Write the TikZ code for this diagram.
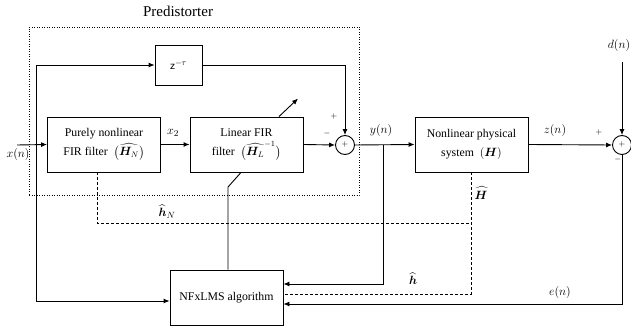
\documentclass[tikz,border=0pt]{standalone}
\usepackage{amsmath,bm}
\usepackage{fontspec}
\setmainfont{Liberation Serif}
\usetikzlibrary{arrows.meta,calc}
\begin{document}
\begin{tikzpicture}[x=1pt,y=-1pt,line width=0.9pt,
  every node/.style={font=\fontsize{11.8}{19}\selectfont},
  blk/.style={draw,fill=white,minimum width=113pt,minimum height=55pt,align=center,inner sep=0pt},
  sumc/.style={draw,circle,minimum size=19pt,inner sep=0pt,font=\fontsize{8}{8}\selectfont},
  sgn/.style={inner sep=0pt,font=\fontsize{8.5}{8.5}\selectfont},
  arr/.style={-{Latex[length=6pt,width=5pt]}},
  dsh/.style={line width=0.7pt,dash pattern=on 3pt off 2pt},
  lbl/.style={inner sep=0pt,font=\fontsize{12.2}{13}\selectfont}]
\useasboundingbox (0,0) rectangle (631,331);
% predistorter frame
\node[draw,dotted,line width=0.5pt,minimum width=330pt,minimum height=168pt,inner sep=0pt] (pd) at (194,111) {};
\node[font=\fontsize{15}{15}\selectfont] (ptitle) at (178,11) {Predistorter};
% blocks
\node[draw,fill=white,minimum width=47pt,minimum height=40pt,inner sep=0pt] (zb) at (178.5,65) {$\mathsf{z}^{-\tau}$};
\node[blk] (nlf) at (104,144.5) {Purely nonlinear\\FIR filter~~$\big(\widehat{\bm{H}_N}\big)$};
\node[blk] (lin) at (246.5,144.5) {Linear FIR\\filter~~$\big(\widehat{\bm{H}_L}^{-1}\big)$};
\node[sumc] (s1) at (345,145) {$+$};
\node[blk] (phys) at (471.5,144.5) {Nonlinear physical\\system~~$(\bm{H})$};
\node[sumc] (s2) at (622,145) {$+$};
\node[blk] (alg) at (226.5,297.5) {NFxLMS algorithm};
% coordinates
\coordinate (xin) at (17,145);
\coordinate (br) at (36,145);
\coordinate (yb) at (383,145);
\coordinate (dn) at (622,62);
\coordinate (hj) at ($(phys.south)+(0,51)$);
\coordinate (cb) at (228,187);
% main connections
\draw[arr] (xin) -- (nlf.west);
\draw[arr] (br) |- (zb.west);
\draw[arr] (br) |- ($(alg.west)+(0,3.5)$);
\draw[arr] (nlf.east) -- (lin.west);
\draw[arr] (lin.east) -- (s1.west);
\draw[arr] (zb.east) -| (s1.north);
\draw[arr] (s1.east) -- (phys.west);
\draw[arr] (yb) |- ($(alg.east)+(0,-13.5)$);
\draw[arr] (phys.east) -- (s2.west);
\draw[arr] (dn) -- (s2.north);
\draw[arr] (s2.south) |- ($(alg.east)+(0,6.5)$);
% dashed estimates
\draw[dsh] (phys.south) |- ($(alg.east)+(0,-3.5)$);
\draw[dsh] ($(nlf.south)+(-7,0)$) |- (hj);
% adaptation
\draw ($(alg.north)+(1.5,0)$) -- (cb) -- ($(lin.south)+(-5.5,0)$);
\draw[arr] ($(lin.north)+(32.5,0)$) -- ++(19,-18);
% labels
\node[lbl] (lx) at (18,155) {$x(n)$};
\node[lbl] (lx2) at (173,133) {$x_2$};
\node[lbl] (ly) at (381,131) {$y(n)$};
\node[lbl] (lz) at (555,131) {$z(n)$};
\node[lbl] (ld) at (619,46) {$d(n)$};
\node[lbl] (le) at (560,292) {$e(n)$};
\node[lbl] (lhN) at (167,212) {$\widehat{\bm{h}}_N$};
\node[lbl] (lH) at (481,193) {$\widehat{\bm{H}}$};
\node[lbl] (lh) at (413,279) {$\widehat{\bm{h}}$};
\node[sgn] (p1) at (334,117) {$+$};
\node[sgn] (m1) at (327,134) {$-$};
\node[sgn] (p2) at (599,133) {$+$};
\node[sgn] (m2) at (618,160) {$-$};
\end{tikzpicture}
\end{document}
